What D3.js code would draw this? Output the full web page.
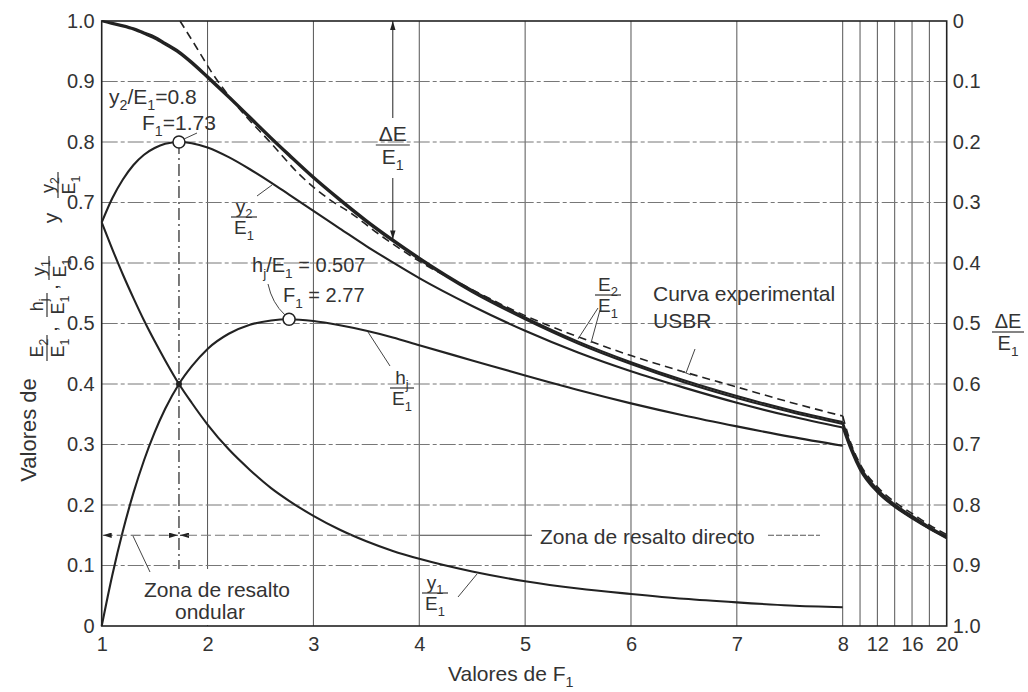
<!DOCTYPE html>
<html>
<head>
<meta charset="utf-8">
<script src="https://cdn.jsdelivr.net/npm/d3@7"></script>
<style>
  html, body { margin: 0; padding: 0; background: #fff; }
  svg { display: block; font-family: "Liberation Sans", Arial, Helvetica, sans-serif; }
</style>
</head>
<body>
<svg id="chart" width="1028" height="692"></svg>
<script>
// Froude numbers of the approaching flow (regular part of the scale, 1 to 8)
const froude = [1, 1.1, 1.2, 1.3, 1.4, 1.5, 1.6, 1.73, 1.85, 2, 2.2, 2.4, 2.6, 2.77, 3, 3.25, 3.5, 3.75, 4, 4.5, 5, 5.5, 6, 6.5, 7, 7.5, 8];
// Relative depths and energies, all divided by E1
const y1E1 = [0.667, 0.623, 0.581, 0.542, 0.505, 0.471, 0.439, 0.400, 0.369, 0.333, 0.292, 0.258, 0.228, 0.207, 0.182, 0.159, 0.140, 0.124, 0.111, 0.090, 0.074, 0.062, 0.053, 0.045, 0.039, 0.034, 0.031];
const y2E1 = [0.667, 0.707, 0.738, 0.762, 0.779, 0.790, 0.797, 0.800, 0.798, 0.791, 0.775, 0.755, 0.733, 0.713, 0.686, 0.657, 0.628, 0.601, 0.575, 0.529, 0.488, 0.452, 0.421, 0.394, 0.369, 0.347, 0.328];
const hjE1 = [0, 0.084, 0.157, 0.220, 0.274, 0.320, 0.359, 0.400, 0.429, 0.458, 0.483, 0.498, 0.505, 0.507, 0.504, 0.497, 0.488, 0.477, 0.464, 0.439, 0.414, 0.390, 0.368, 0.348, 0.330, 0.313, 0.298];
const e2E1 = [1.000, 0.997, 0.993, 0.988, 0.981, 0.974, 0.964, 0.950, 0.933, 0.909, 0.876, 0.842, 0.808, 0.780, 0.743, 0.706, 0.671, 0.639, 0.609, 0.555, 0.510, 0.470, 0.436, 0.406, 0.380, 0.357, 0.337];
// Energy loss (right-hand, inverted scale)
const deltaE = [0, 0.005, 0.009, 0.014, 0.021, 0.029, 0.039, 0.053, 0.070, 0.094, 0.127, 0.161, 0.195, 0.223, 0.260, 0.297, 0.332, 0.364, 0.394, 0.448, 0.493, 0.533, 0.567, 0.597, 0.623, 0.646, 0.666];

// Compressed part of the scale, 8 to 20
const froudeHigh = [8, 9, 10, 12, 14, 16, 18, 20];
const e2E1High = [0.337, 0.296, 0.264, 0.226, 0.201, 0.182, 0.164, 0.148];
const y2E1High = [0.328, 0.289, 0.258, 0.221, 0.197, 0.178, 0.161, 0.146];
const deltaEHigh = [0.666, 0.707, 0.739, 0.777, 0.802, 0.821, 0.839, 0.855];

// USBR experimental curve (E2/E1)
const usbrF = [1.74, 1.9, 2.04, 2.3, 2.6, 2.87, 3.16, 3.35, 3.6, 4, 4.5, 5, 5.5, 6, 6.5, 7, 7.5, 8];
const usbrE2E1 = [1.0, 0.955, 0.915, 0.855, 0.798, 0.746, 0.704, 0.683, 0.650, 0.603, 0.556, 0.513, 0.478, 0.447, 0.420, 0.395, 0.370, 0.347];
const usbrFHigh = [8, 9, 10, 12, 14, 16, 18, 20];
const usbrE2E1High = [0.347, 0.300, 0.268, 0.230, 0.205, 0.186, 0.167, 0.151];

// Axes
const xTicks = [1, 2, 3, 4, 5, 6, 7, 8, 12, 16, 20];
const xGrid = [2, 3, 4, 5, 6, 7, 8, 10, 12, 14, 16, 18];
const yTicksLeft = [0, 0.1, 0.2, 0.3, 0.4, 0.5, 0.6, 0.7, 0.8, 0.9, 1.0];
const yTicksRight = [0, 0.1, 0.2, 0.3, 0.4, 0.5, 0.6, 0.7, 0.8, 0.9, 1.0];
const yGrid = [0.1, 0.2, 0.3, 0.4, 0.5, 0.6, 0.7, 0.8, 0.9];

// Marked points
const peakY2 = { f: 1.73, v: 0.8 };
const peakHj = { f: 2.77, v: 0.507 };
const crossing = { f: 1.73, v: 0.4 };
const zoneLimit = 1.73;
const zoneLevel = 0.15;
const lossMarkF = 3.75;
const lossMarkE2 = 0.639;

const ink = "#222";
const textInk = "#333";
const svg = d3.select("#chart");

const x = d3.scaleLinear().domain([1, 8, 20]).range([101.7, 842.7, 946.7]);
const y = d3.scaleLinear().domain([0, 1]).range([626, 21]);
const yR = d3.scaleLinear().domain([0, 1]).range([21, 626]);

// arrowhead markers
const defs = svg.append("defs");
defs.append("marker").attr("id", "arrow")
  .attr("viewBox", "0 0 10 6").attr("refX", 10).attr("refY", 3)
  .attr("markerWidth", 9).attr("markerHeight", 5.5).attr("markerUnits", "userSpaceOnUse")
  .attr("orient", "auto-start-reverse")
  .append("path").attr("d", "M0,0 L10,3 L0,6 Z").attr("fill", ink);

// grid
const grid = svg.append("g");
grid.selectAll("line.v").data(xGrid).join("line")
  .attr("x1", d => x(d)).attr("x2", d => x(d))
  .attr("y1", y(0)).attr("y2", y(1))
  .attr("stroke", "#555").attr("stroke-width", 1);
grid.selectAll("line.h").data(yGrid).join("line")
  .attr("x1", x(1)).attr("x2", x(20))
  .attr("y1", d => y(d)).attr("y2", d => y(d))
  .attr("stroke", "#777").attr("stroke-width", 1)
  .attr("stroke-dasharray", "16,3,4,3");

// axes
const tickFmt = d => d === 0 ? "0" : d3.format(".1f")(d);
const axL = svg.append("g").attr("transform", `translate(${x(1)},0)`)
  .call(d3.axisLeft(y).tickValues(yTicksLeft).tickFormat(tickFmt).tickSize(0).tickPadding(7));
const axR = svg.append("g").attr("transform", `translate(${x(20)},0)`)
  .call(d3.axisRight(yR).tickValues(yTicksRight).tickFormat(tickFmt).tickSize(0).tickPadding(6));
const axB = svg.append("g").attr("transform", `translate(0,${y(0)})`)
  .call(d3.axisBottom(x).tickValues(xTicks).tickFormat(d3.format("d")).tickSize(0).tickPadding(11));
[axL, axR, axB].forEach(a => {
  a.select(".domain").remove();
  a.selectAll("text").attr("font-size", 20).attr("fill", textInk)
    .attr("font-family", '"Liberation Sans", Arial, sans-serif');
});

// curves
const pairs = (fs, vs) => fs.map((f, i) => [f, vs[i]]);
const lineL = d3.line().x(d => x(d[0])).y(d => y(d[1])).curve(d3.curveMonotoneX);
const lineR = d3.line().x(d => x(d[0])).y(d => yR(d[1])).curve(d3.curveMonotoneX);
const curves = svg.append("g").attr("fill", "none").attr("stroke", ink)
  .attr("stroke-width", 2.1).attr("stroke-linejoin", "round");

curves.append("path").attr("d", lineL(pairs(froude, y1E1)));
curves.append("path").attr("d", lineL(pairs(froude, hjE1)));
curves.append("path").attr("d", lineL(pairs(froude, y2E1)));
curves.append("path").attr("d", lineL(pairs(froude, e2E1)));
curves.append("path").attr("d", lineR(pairs(froude, deltaE)));
curves.append("path").attr("d", lineL(pairs(froudeHigh, y2E1High)));
curves.append("path").attr("d", lineL(pairs(froudeHigh, e2E1High)));
curves.append("path").attr("d", lineR(pairs(froudeHigh, deltaEHigh)));

const dashed = svg.append("g").attr("fill", "none").attr("stroke", ink)
  .attr("stroke-width", 1.6).attr("stroke-dasharray", "8,5");
dashed.append("path").attr("d", lineL(pairs(usbrF, usbrE2E1)));
dashed.append("path").attr("d", lineL(pairs(usbrFHigh, usbrE2E1High)));

// dash-dot vertical at the limit of the undular jump
svg.append("line")
  .attr("x1", x(zoneLimit)).attr("x2", x(zoneLimit))
  .attr("y1", y(peakY2.v)).attr("y2", y(0))
  .attr("stroke", ink).attr("stroke-width", 1.2).attr("stroke-dasharray", "12,4,2,4");

// blank patch under the undular-zone caption
svg.append("rect").attr("x", 138).attr("y", 569).attr("width", 158).attr("height", 56).attr("fill", "#fff");

// frame
svg.append("rect")
  .attr("x", x(1)).attr("y", y(1))
  .attr("width", x(20) - x(1)).attr("height", y(0) - y(1))
  .attr("fill", "none").attr("stroke", ink).attr("stroke-width", 1.6);

// marked points
svg.append("circle").attr("cx", x(crossing.f)).attr("cy", y(crossing.v)).attr("r", 3).attr("fill", ink);
[peakY2, peakHj].forEach(p => {
  svg.append("circle").attr("cx", x(p.f)).attr("cy", y(p.v)).attr("r", 6)
    .attr("fill", "#fff").attr("stroke", ink).attr("stroke-width", 1.5);
});

// helpers for text with subscripts: parts are strings or [subscript]
function rich(g, px, py, parts, size, anchor) {
  const t = g.append("text").attr("x", px).attr("y", py)
    .attr("font-size", size).attr("fill", textInk).attr("text-anchor", anchor || "start");
  let shifted = false;
  parts.forEach(p => {
    if (Array.isArray(p)) {
      t.append("tspan").attr("font-size", size * 0.68).attr("dy", shifted ? 0 : size * 0.28).text(p[0]);
      shifted = true;
    } else {
      t.append("tspan").attr("dy", shifted ? -size * 0.28 : 0).text(p);
      shifted = false;
    }
  });
  return t;
}
function frac(g, cx, barY, num, den, w, size) {
  rich(g, cx, barY - 4, num, size, "middle");
  g.append("line").attr("x1", cx - w / 2).attr("x2", cx + w / 2)
    .attr("y1", barY).attr("y2", barY).attr("stroke", textInk).attr("stroke-width", 1.2);
  rich(g, cx, barY + size * 0.92, den, size, "middle");
}
function leader(pts) {
  svg.append("path").attr("d", d3.line()(pts)).attr("fill", "none")
    .attr("stroke", "#444").attr("stroke-width", 1);
}

const ann = svg.append("g");

// peak of y2/E1
rich(ann, 109, 104, ["y", ["2"], "/E", ["1"], "=0.8"], 21);
rich(ann, 142, 130, ["F", ["1"], "=1.73"], 21);
leader([[197, 133], [184, 139]]);

// y2/E1 curve label
frac(ann, 244, 217, ["y", ["2"]], ["E", ["1"]], 26, 19);
leader([[257, 196], [272, 185]]);

// peak of hj/E1
rich(ann, 252, 272, ["h", ["j"], "/E", ["1"], " = 0.507"], 20);
rich(ann, 283, 302, ["F", ["1"], " = 2.77"], 20);
svg.append("path").attr("d", "M268,284 Q272,303 285,315")
  .attr("fill", "none").attr("stroke", "#444").attr("stroke-width", 1);

// hj/E1 curve label
frac(ann, 402, 388, ["h", ["j"]], ["E", ["1"]], 24, 19);
leader([[368, 332], [390, 366]]);

// E2/E1 curve label
frac(ann, 608, 295, ["E", ["2"]], ["E", ["1"]], 26, 19);
leader([[598, 308], [578, 339]]);
leader([[600, 310], [591, 343]]);

// USBR experimental curve label
ann.append("text").attr("x", 653).attr("y", 301).attr("font-size", 21).attr("fill", textInk).text("Curva experimental");
ann.append("text").attr("x", 653).attr("y", 328).attr("font-size", 21).attr("fill", textInk).text("USBR");
leader([[695, 349], [686, 373]]);
leader([[681, 371], [691, 375]]);

// y1/E1 curve label
frac(ann, 435, 593, ["y", ["1"]], ["E", ["1"]], 26, 19);
leader([[458, 597], [477, 574]]);

// energy loss indicator
const lx = x(lossMarkF);
svg.append("line").attr("x1", lx).attr("x2", lx).attr("y1", 118).attr("y2", y(1))
  .attr("stroke", ink).attr("stroke-width", 1).attr("marker-end", "url(#arrow)");
svg.append("line").attr("x1", lx).attr("x2", lx).attr("y1", 178).attr("y2", y(lossMarkE2))
  .attr("stroke", ink).attr("stroke-width", 1).attr("marker-end", "url(#arrow)");
frac(ann, lx, 145, ["ΔE"], ["E", ["1"]], 34, 21);

// undular / direct jump zones
const zy = y(zoneLevel);
svg.append("line").attr("x1", x(1) + 1).attr("x2", x(zoneLimit) - 1).attr("y1", zy).attr("y2", zy)
  .attr("stroke", "#555").attr("stroke-width", 1).attr("stroke-dasharray", "10,4")
  .attr("marker-start", "url(#arrow)").attr("marker-end", "url(#arrow)");
svg.append("line").attr("x1", x(zoneLimit) + 8).attr("x2", x(zoneLimit) + 1).attr("y1", zy).attr("y2", zy)
  .attr("stroke", ink).attr("stroke-width", 1).attr("marker-end", "url(#arrow)");
svg.append("line").attr("x1", x(zoneLimit) + 8).attr("x2", 420).attr("y1", zy).attr("y2", zy)
  .attr("stroke", "#777").attr("stroke-width", 1).attr("stroke-dasharray", "10,4");
svg.append("line").attr("x1", 420).attr("x2", 532).attr("y1", zy).attr("y2", zy)
  .attr("stroke", "#444").attr("stroke-width", 1);
svg.append("line").attr("x1", 768).attr("x2", 820).attr("y1", zy).attr("y2", zy)
  .attr("stroke", "#555").attr("stroke-width", 1).attr("stroke-dasharray", "6,2");
ann.append("text").attr("x", 540).attr("y", 544).attr("font-size", 21).attr("fill", textInk).text("Zona de resalto directo");

ann.append("text").attr("x", 217).attr("y", 597).attr("font-size", 21).attr("fill", textInk)
  .attr("text-anchor", "middle").text("Zona de resalto");
ann.append("text").attr("x", 210).attr("y", 619).attr("font-size", 21).attr("fill", textInk)
  .attr("text-anchor", "middle").text("ondular");
leader([[150, 572], [133, 536]]);

// axis titles
rich(ann, 448, 681, ["Valores de  F", ["1"]], 21);
frac(ann, 1008, 332, ["ΔE"], ["E", ["1"]], 32, 20);

// rotated left title, built piece by piece
function rotGroup(px, py) {
  return svg.append("g").attr("transform", `translate(${px},${py}) rotate(-90)`);
}
rotGroup(36, 430).append("text").attr("font-size", 22).attr("fill", textInk)
  .attr("text-anchor", "middle").text("Valores de");
frac(rotGroup(47, 348), 0, 0, ["E", ["2"]], ["E", ["1"]], 26, 18);
rotGroup(57, 329).append("text").attr("font-size", 20).attr("fill", textInk).attr("text-anchor", "middle").text(",");
frac(rotGroup(47, 305), 0, 0, ["h", ["j"]], ["E", ["1"]], 24, 18);
rotGroup(58, 287).append("text").attr("font-size", 20).attr("fill", textInk).attr("text-anchor", "middle").text(",");
frac(rotGroup(49, 268), 0, 0, ["y", ["1"]], ["E", ["1"]], 24, 18);
rotGroup(58, 218).append("text").attr("font-size", 21).attr("fill", textInk).attr("text-anchor", "middle").text("y");
frac(rotGroup(58, 185), 0, 0, ["y", ["2"]], ["E", ["1"]], 26, 18);
</script>
</body>
</html>
